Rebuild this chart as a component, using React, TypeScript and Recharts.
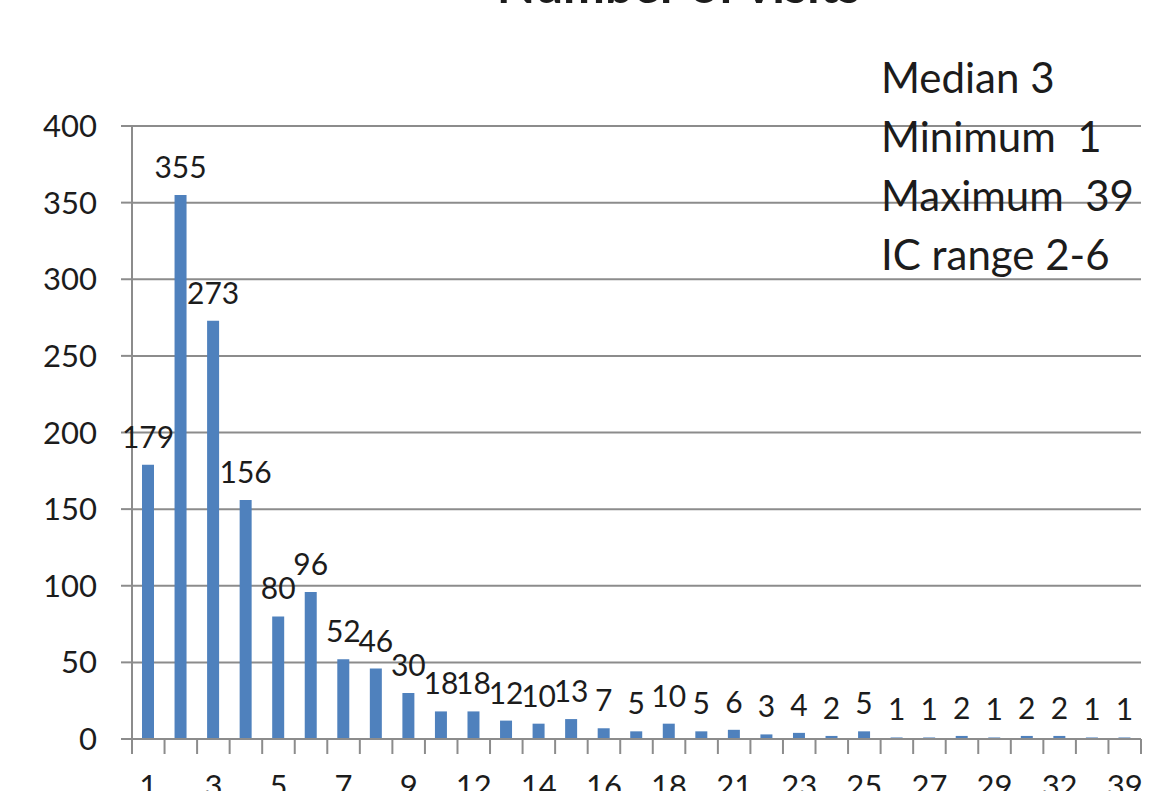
import React from 'react';
import { BarChart, Bar, XAxis, YAxis, CartesianGrid, LabelList, Customized } from 'recharts';

// Number of visits per patient (category) and how many patients had that count
const visitCounts = [
  '1', '2', '3', '4', '5', '6', '7', '8', '9', '10', '12', '13', '14', '15', '16', '17',
  '18', '19', '21', '22', '23', '24', '25', '26', '27', '28', '29', '30', '32', '35', '39',
];
const patients = [
  179, 355, 273, 156, 80, 96, 52, 46, 30, 18, 18, 12, 10, 13, 7, 5,
  10, 5, 6, 3, 4, 2, 5, 1, 1, 2, 1, 2, 2, 1, 1,
];
const yTicks = [0, 50, 100, 150, 200, 250, 300, 350, 400];
const summaryLines = ['Median 3', 'Minimum  1', 'Maximum  39', 'IC range 2-6'];
const chartTitle = 'Number of visits';

const rows = visitCounts.map((v, i) => ({ visits: v, count: patients[i] }));

const W = 1149;
const H = 791;
const M = { top: 126, right: 8, bottom: 0, left: 0 };
const Y_AXIS_W = 132;
const X_AXIS_H = 52;
const FONT = 'Lato, "Open Sans", sans-serif';
const TEXT = '#1c1c1c';
const GRID = '#8c8c8c';
const band = (W - M.left - M.right - Y_AXIS_W) / visitCounts.length;

const CategoryTick = (props: any) => {
  const { x, y, payload } = props;
  const idx = payload.index;
  const isLast = idx === visitCounts.length - 1;
  return (
    <g>
      <line x1={x - band / 2} x2={x - band / 2} y1={y} y2={y + 15} stroke={GRID} strokeWidth={2} />
      {isLast && (
        <line x1={x + band / 2} x2={x + band / 2} y1={y} y2={y + 15} stroke={GRID} strokeWidth={2} />
      )}
      {idx % 2 === 0 && (
        <text x={x} y={y + 58} textAnchor="middle" fontSize={31} fontFamily={FONT} fill={TEXT}>
          {payload.value}
        </text>
      )}
    </g>
  );
};

const Annotations = () => (
  <g fontFamily={FONT} fill={TEXT}>
    <text x={W / 2 + 104} y={3} textAnchor="middle" fontSize={50} fontWeight={700}>
      {chartTitle}
    </text>
    {summaryLines.map((s, i) => (
      <text key={s} x={881} y={93 + i * 59} fontSize={42} style={{ whiteSpace: 'pre' }}>
        {s}
      </text>
    ))}
  </g>
);

export default function App() {
  return (
    <div style={{ position: 'absolute', left: 0, top: 0, width: W, height: H, background: '#fff' }}>
      <BarChart width={W} height={H} data={rows} margin={M}>
        <CartesianGrid horizontal vertical={false} stroke={GRID} strokeWidth={2} />
        <YAxis
          width={Y_AXIS_W}
          domain={[0, 400]}
          ticks={yTicks}
          interval={0}
          tickSize={11}
          tickMargin={24}
          axisLine={{ stroke: GRID, strokeWidth: 2 }}
          tickLine={{ stroke: GRID, strokeWidth: 2 }}
          tick={{ fontSize: 31, fontFamily: FONT, fill: TEXT }}
        />
        <XAxis
          dataKey="visits"
          height={X_AXIS_H}
          interval={0}
          tickSize={0}
          tickMargin={0}
          tickLine={false}
          axisLine={{ stroke: GRID, strokeWidth: 2 }}
          tick={<CategoryTick />}
        />
        <Bar dataKey="count" fill="#4f81bd" barSize={12} isAnimationActive={false}>
          <LabelList
            dataKey="count"
            position="top"
            offset={17}
            style={{ fontSize: 30, fontFamily: FONT, fill: TEXT }}
          />
        </Bar>
        <Customized component={Annotations} />
      </BarChart>
    </div>
  );
}
